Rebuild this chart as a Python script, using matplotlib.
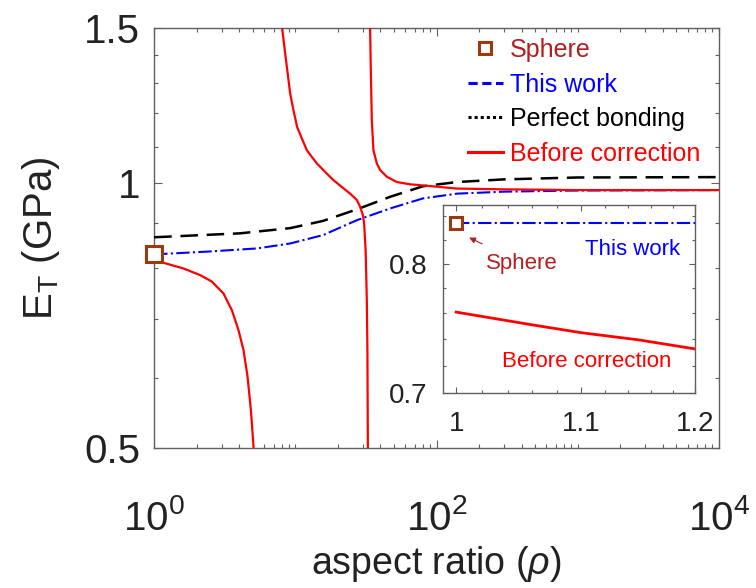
import numpy as np
import matplotlib
matplotlib.use("Agg")
import matplotlib.pyplot as plt
from matplotlib.lines import Line2D
from matplotlib.ticker import FixedLocator, FixedFormatter, NullFormatter

plt.rcParams['font.family'] = ['Liberation Sans', 'DejaVu Sans']
plt.rcParams['mathtext.fontset'] = 'custom'
plt.rcParams['mathtext.rm'] = 'Liberation Sans'
plt.rcParams['mathtext.it'] = 'Liberation Sans:italic'

# ---------------- data (main) ----------------
sphere_x = [1.0]
sphere_y = [0.830]

perfect_x = [1.0, 4.06, 9.18, 15.7, 27.4, 46.9, 80.2, 139.7, 300, 1000, 10000]
perfect_y = [0.868, 0.877, 0.889, 0.906, 0.934, 0.965, 0.992, 1.003, 1.010, 1.015, 1.016]

thiswork_x = [1.0, 2.37, 5.36, 9.18, 15.7, 27.4, 46.9, 80.2, 139.7, 300, 1000, 10000]
thiswork_y = [0.830, 0.836, 0.843, 0.854, 0.873, 0.908, 0.936, 0.961, 0.973, 0.978, 0.981, 0.982]

before1_x = [1.0, 1.16, 1.61, 2.12, 2.56, 3.10, 3.55, 3.95, 4.29, 4.58, 4.84, 5.05, 5.2]
before1_y = [0.815, 0.812, 0.800, 0.786, 0.773, 0.749, 0.717, 0.681, 0.646, 0.603, 0.552, 0.502, 0.45]

before2_x = [7.9, 8.06, 8.46, 9.18, 9.69, 10.29, 11.11, 12.05, 13.08, 14.19, 16.24, 18.59,
             21.33, 24.42, 27.23, 28.73, 30.03, 30.67, 31.44, 32.05, 32.36, 32.6, 32.8]
before2_y = [1.60, 1.499, 1.405, 1.265, 1.210, 1.158, 1.124, 1.090, 1.071, 1.053, 1.030, 1.008,
             0.990, 0.973, 0.957, 0.940, 0.920, 0.900, 0.839, 0.736, 0.646, 0.502, 0.45]

before3_x = [33.6, 33.82, 34.21, 34.77, 35.70, 37.73, 39.81, 44.41, 52.25, 64.93, 80.63, 139,
             300, 1000, 10000]
before3_y = [1.60, 1.499, 1.344, 1.179, 1.090, 1.053, 1.035, 1.017, 1.003, 0.997, 0.994, 0.986,
             0.984, 0.982, 0.982]

xticks_main = [1, 100, 10000]
xticklabels_main = [r'$\mathregular{10^{0}}$', r'$\mathregular{10^{2}}$', r'$\mathregular{10^{4}}$']
yticks_main = [0.5, 1.0, 1.5]
yticklabels_main = ['0.5', '1', '1.5']

# ---------------- data (inset) ----------------
in_sphere_x = [1.0]
in_sphere_y = [0.834]
in_thiswork_x = [1.0, 1.05, 1.1, 1.15, 1.2]
in_thiswork_y = [0.834, 0.834, 0.834, 0.834, 0.834]
in_before_x = [1.0, 1.06, 1.10, 1.15, 1.2]
in_before_y = [0.761, 0.751, 0.745, 0.7394, 0.7326]

xticks_in = [1.0, 1.1, 1.2]
xticklabels_in = ['1', '1.1', '1.2']
yticks_in = [0.7, 0.8]
yticklabels_in = ['0.7', '0.8']

BROWN = '#9c3a0e'
DARKRED = '#b41e1e'
SPINE = '#606060'

fig = plt.figure(figsize=(7.56, 5.88), dpi=100)
ax = fig.add_axes([0.204, 0.238, 0.747, 0.714])

ax.plot(perfect_x, perfect_y, color='black', ls=(0, (7, 3.5)), lw=1.8, zorder=3)
ax.plot(thiswork_x, thiswork_y, color='blue', ls='-.', lw=1.5, zorder=3)
for bx, by in [(before1_x, before1_y), (before2_x, before2_y), (before3_x, before3_y)]:
    ax.plot(bx, by, color='red', lw=1.6, zorder=3)
ax.plot(sphere_x, sphere_y, ls='none', marker='s', ms=11, mfc='white', mec=BROWN, mew=2.2,
        zorder=5, clip_on=False)

ax.set_xscale('log')
ax.set_yscale('log')
ax.set_xlim(1, 1e4)
ax.set_ylim(0.5, 1.5)
ax.xaxis.set_major_locator(FixedLocator(xticks_main))
ax.xaxis.set_major_formatter(FixedFormatter(xticklabels_main))
ax.xaxis.set_minor_locator(FixedLocator([m * 10 ** k for k in range(4) for m in range(1, 10) if not (m == 1 and k % 2 == 0)]))
ax.xaxis.set_minor_formatter(NullFormatter())
ax.yaxis.set_major_locator(FixedLocator(yticks_main))
ax.yaxis.set_major_formatter(FixedFormatter(yticklabels_main))
ax.yaxis.set_minor_locator(FixedLocator([0.6, 0.7, 0.8, 0.9, 1.1, 1.2, 1.3, 1.4]))
ax.yaxis.set_minor_formatter(NullFormatter())

for s in ax.spines.values():
    s.set_color(SPINE)
    s.set_linewidth(1.0)
ax.tick_params(which='both', direction='in', top=True, right=True, colors=SPINE,
               labelcolor='#222222', width=0.8)
ax.tick_params(which='major', length=6, labelsize=29)
ax.tick_params(which='minor', length=3)
ax.tick_params(axis='x', which='major', pad=37)
ax.tick_params(axis='y', which='major', pad=10)

ax.set_xlabel(r'aspect ratio ($\rho$)', fontsize=27, color='#222222', labelpad=4)
ax.set_ylabel(r'$\mathregular{E_T}$ (GPa)', fontsize=29, color='#222222', labelpad=16)

handles = [
    Line2D([], [], ls='none', marker='s', ms=9, mfc='white', mec=BROWN, mew=2.2),
    Line2D([], [], color='blue', ls=(0, (3, 1.5)), lw=2.2),
    Line2D([], [], color='black', ls=(0, (1, 1)), lw=2.2),
    Line2D([], [], color='red', ls='-', lw=2.2),
]
labels = ['Sphere', 'This work', 'Perfect bonding', 'Before correction']
leg = ax.legend(handles, labels, loc='upper right', bbox_to_anchor=(0.984, 1.0), frameon=False,
                fontsize=18, handlelength=1.4, handletextpad=0.28, labelspacing=0.42,
                borderaxespad=0.0)
for t, c in zip(leg.get_texts(), [DARKRED, 'blue', 'black', 'red']):
    t.set_color(c)

# ---------------- inset ----------------
axi = fig.add_axes([443 / 756, 1 - 393 / 588, 252 / 756, 188 / 588])
axi.set_xscale('log')
axi.set_yscale('log')
axi.plot(in_thiswork_x, in_thiswork_y, color='blue', ls='-.', lw=1.5, zorder=3)
axi.plot(in_before_x, in_before_y, color='red', lw=2.0, zorder=3)
axi.plot(in_sphere_x, in_sphere_y, ls='none', marker='s', ms=9, mfc='white', mec=BROWN, mew=2.2, zorder=5)
axi.set_xlim(0.99, 1.2)
axi.set_ylim(0.7, 0.85)
axi.xaxis.set_major_locator(FixedLocator(xticks_in))
axi.xaxis.set_major_formatter(FixedFormatter(xticklabels_in))
axi.xaxis.set_minor_locator(FixedLocator([1.02, 1.04, 1.06, 1.08, 1.12, 1.14, 1.16, 1.18]))
axi.xaxis.set_minor_formatter(NullFormatter())
axi.yaxis.set_major_locator(FixedLocator(yticks_in))
axi.yaxis.set_major_formatter(FixedFormatter(yticklabels_in))
axi.yaxis.set_minor_locator(FixedLocator([0.72, 0.74, 0.76, 0.78, 0.82, 0.84]))
axi.yaxis.set_minor_formatter(NullFormatter())
for s in axi.spines.values():
    s.set_color(SPINE)
    s.set_linewidth(1.0)
axi.tick_params(which='both', direction='in', top=True, right=True, colors=SPINE,
                labelcolor='#222222', width=0.8)
axi.tick_params(which='major', length=4, labelsize=20)
axi.tick_params(axis='x', which='major', pad=13)
axi.tick_params(axis='y', which='major', pad=11)
axi.tick_params(which='minor', length=2)

axi.text(0.754, 0.761, 'This work', transform=axi.transAxes, color='blue', fontsize=16,
         ha='center', va='center')
axi.text(0.571, 0.165, 'Before correction', transform=axi.transAxes, color='red', fontsize=16,
         ha='center', va='center')
axi.annotate('Sphere', xy=(0.099, 0.83), xycoords='axes fraction', xytext=(0.313, 0.69),
             textcoords='axes fraction', color=DARKRED, fontsize=16, ha='center', va='center',
             arrowprops=dict(arrowstyle='-|>', color=DARKRED, lw=0.8, mutation_scale=9,
                             shrinkA=10, shrinkB=1))

fig.savefig('out.png', dpi=100)
